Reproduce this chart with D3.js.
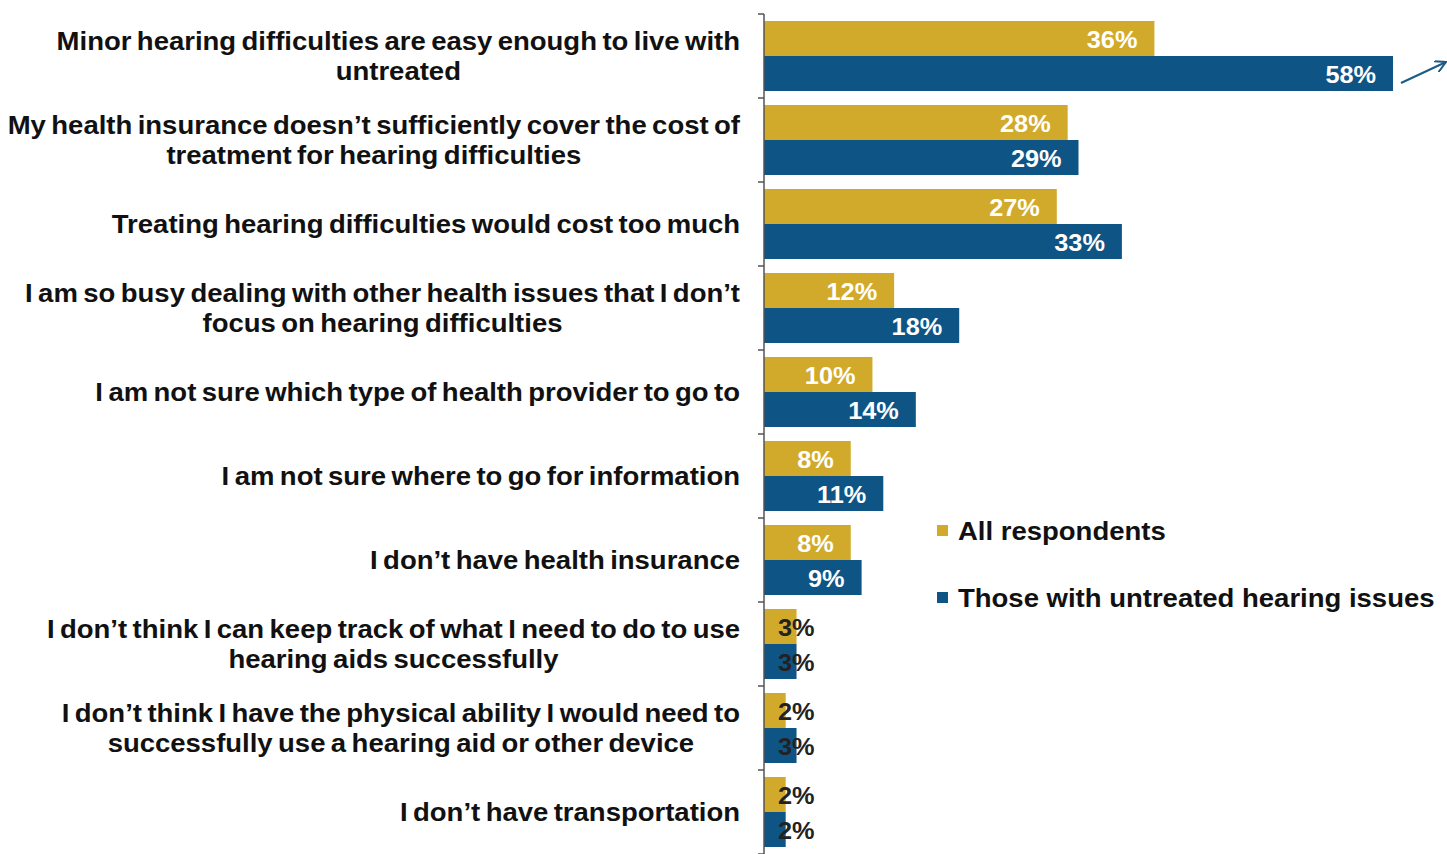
<!DOCTYPE html>
<html>
<head>
<meta charset="utf-8">
<script src="https://cdn.jsdelivr.net/npm/d3@7"></script>
<style>
  html, body { margin: 0; padding: 0; background: #fff; }
  svg { display: block; }
  text { font-family: "Liberation Sans", Arial, sans-serif; font-weight: bold; }
</style>
</head>
<body>
<svg id="chart" width="1447" height="854"></svg>
<script>
const categories = [
  ["Minor hearing difficulties are easy enough to live with", "untreated"],
  ["My health insurance doesn\u2019t sufficiently cover the cost of", "treatment for hearing difficulties"],
  ["Treating hearing difficulties would cost too much"],
  ["I am so busy dealing with other health issues that I don\u2019t", "focus on hearing difficulties"],
  ["I am not sure which type of health provider to go to"],
  ["I am not sure where to go for information"],
  ["I don\u2019t have health insurance"],
  ["I don\u2019t think I can keep track of what I need to do to use", "hearing aids successfully"],
  ["I don\u2019t think I have the physical ability I would need to", "successfully use a hearing aid or other device"],
  ["I don\u2019t have transportation"]
];
const allRespondents = [36, 28, 27, 12, 10, 8, 8, 3, 2, 2];
const untreated = [58, 29, 33, 18, 14, 11, 9, 3, 3, 2];
const seriesNames = ["All respondents", "Those with untreated hearing issues"];
const colors = ["#D2AA2B", "#0E5586"];

const SX = 1.1; // horizontal stretch of the text in the reference
const svg = d3.select("#chart");
const x0 = 764, y0 = 14, y1 = 854;
const x = d3.scaleLinear().domain([0, 58]).range([x0, 1393]);
const y = d3.scaleBand().domain(d3.range(categories.length)).range([y0, y1]).paddingInner(0).paddingOuter(0);
const sub = d3.scaleBand().domain([0, 1]).range([0, y.bandwidth()]).paddingInner(0).paddingOuter(0.2);

function stretchedText(parent, px, py, anchor, size, fill, str) {
  const gg = parent.append("g").attr("transform", `translate(${px},${py}) scale(${SX},1)`);
  return gg.append("text").attr("x", 0).attr("y", 0).attr("dy", "0.36em")
    .attr("text-anchor", anchor).attr("fill", fill)
    .style("font-size", size + "px").text(str);
}

// bars
const g = svg.append("g");
categories.forEach((c, i) => {
  [allRespondents[i], untreated[i]].forEach((v, s) => {
    const by = y(i) + sub(s);
    g.append("rect")
      .attr("x", x(0)).attr("y", by)
      .attr("width", x(v) - x(0)).attr("height", sub.bandwidth())
      .attr("fill", colors[s]);
    const small = v < 5;
    stretchedText(g, small ? x(0) + 14 : x(v) - 17, by + sub.bandwidth() / 2 + 1,
      small ? "start" : "end", 23, small ? "#222" : "#fff", v + "%");
  });
});

// axis
const ax = svg.append("g").attr("transform", `translate(${x0},0)`);
ax.append("line").attr("x1", 0).attr("x2", 0).attr("y1", y0).attr("y2", y1)
  .attr("stroke", "#555").attr("stroke-width", 1.5);
const tickPos = d3.range(categories.length + 1).map(i => y0 + i * y.step());
ax.selectAll("line.tick").data(tickPos).join("line")
  .attr("class", "tick")
  .attr("x1", -6).attr("x2", 0).attr("y1", d => d).attr("y2", d => d)
  .attr("stroke", "#555").attr("stroke-width", 1.5);

// category labels
const labelRight = 740;
const lineH = 30;
categories.forEach((lines, i) => {
  const cy = y(i) + y.bandwidth() / 2;
  const texts = lines.map((ln, k) =>
    stretchedText(svg, 0, cy + (k - (lines.length - 1) / 2) * lineH, "middle", 25, "#111", ln)
      .style("word-spacing", "-2px"));
  const maxW = d3.max(texts, t => t.node().getComputedTextLength()) * SX;
  texts.forEach((t, k) => {
    d3.select(t.node().parentNode).attr("transform",
      `translate(${labelRight - maxW / 2},${cy + (k - (lines.length - 1) / 2) * lineH}) scale(${SX},1)`);
  });
});

// legend
const legend = svg.append("g");
seriesNames.forEach((n, s) => {
  const ly = 531 + s * 67;
  legend.append("rect").attr("x", 937).attr("y", ly - 6).attr("width", 11).attr("height", 11).attr("fill", colors[s]);
  stretchedText(legend, 958, ly, "start", 25, "#111", n);
});

// arrow
svg.append("defs").append("marker")
  .attr("id", "arr").attr("viewBox", "0 0 12 12").attr("refX", 11).attr("refY", 6)
  .attr("markerWidth", 12).attr("markerHeight", 12).attr("markerUnits", "userSpaceOnUse")
  .attr("orient", "auto")
  .append("path").attr("d", "M0,0 L11,6 L0,12").attr("fill", "none").attr("stroke", "#1C5A87").attr("stroke-width", 2);
svg.append("line").attr("x1", 1401).attr("y1", 83).attr("x2", 1446).attr("y2", 62)
  .attr("stroke", "#1C5A87").attr("stroke-width", 2).attr("marker-end", "url(#arr)");
</script>
</body>
</html>
